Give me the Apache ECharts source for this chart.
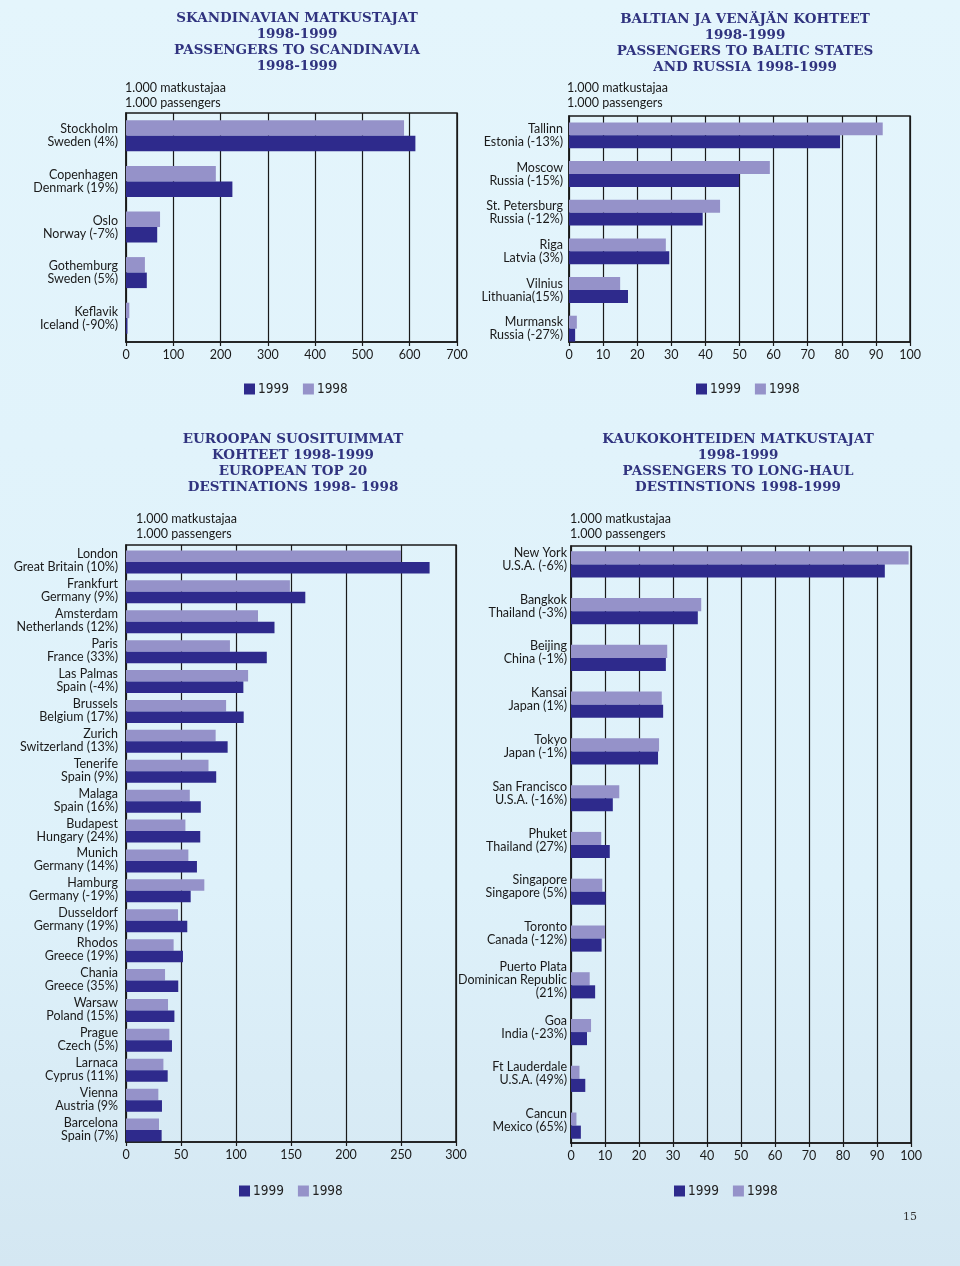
<!DOCTYPE html>
<html><head><meta charset="utf-8">
<script src="https://cdn.jsdelivr.net/npm/echarts@6/dist/echarts.min.js"></script>
<style>html,body{margin:0;padding:0;}#c{width:960px;height:1266px;}</style>
</head><body><div id="c"></div>
<script>
// Chart 1: Scandinavia
const scanCats = ['Stockholm\nSweden (4%)','Copenhagen\nDenmark (19%)','Oslo\nNorway (-7%)','Gothemburg\nSweden (5%)','Keflavik\nIceland (-90%)'];
const scan1998 = [588, 190, 72, 40, 7];
const scan1999 = [612, 225, 66, 44, 3];
// Chart 2: Baltic & Russia
const balCats = ['Tallinn\nEstonia (-13%)','Moscow\nRussia (-15%)','St. Petersburg\nRussia (-12%)','Riga\nLatvia (3%)','Vilnius\nLithuania(15%)','Murmansk\nRussia (-27%)'];
const bal1998 = [92, 58.9, 44.3, 28.4, 15, 2.3];
const bal1999 = [79.5, 49.9, 39.2, 29.4, 17.3, 1.8];
// Chart 3: European top 20
const euCats = ['London\nGreat Britain (10%)','Frankfurt\nGermany (9%)','Amsterdam\nNetherlands (12%)','Paris\nFrance (33%)','Las Palmas\nSpain (-4%)','Brussels\nBelgium (17%)','Zurich\nSwitzerland (13%)','Tenerife\nSpain (9%)','Malaga\nSpain (16%)','Budapest\nHungary (24%)','Munich\nGermany (14%)','Hamburg\nGermany (-19%)','Dusseldorf\nGermany (19%)','Rhodos\nGreece (19%)','Chania\nGreece (35%)','Warsaw\nPoland (15%)','Prague\nCzech (5%)','Larnaca\nCyprus (11%)','Vienna\nAustria (9%','Barcelona\nSpain (7%)'];
const eu1998 = [250, 149, 120, 94.5, 111, 91, 81.5, 75, 58, 54, 56.7, 71.2, 47.3, 43.3, 35.5, 38.2, 39.4, 34, 29.4, 30];
const eu1999 = [276, 163, 135, 128, 106.7, 107, 92.4, 82, 68, 67.5, 64.5, 58.8, 55.7, 51.8, 47.5, 44, 41.8, 37.9, 32.7, 32.4];
// Chart 4: Long-haul
const lhCats = ['New York\nU.S.A. (-6%)','Bangkok\nThailand (-3%)','Beijing\nChina (-1%)','Kansai\nJapan (1%)','Tokyo\nJapan (-1%)','San Francisco\nU.S.A. (-16%)','Phuket\nThailand (27%)','Singapore\nSingapore (5%)','Toronto\nCanada (-12%)','Puerto Plata\nDominican Republic\n(21%)','Goa\nIndia (-23%)','Ft Lauderdale\nU.S.A. (49%)','Cancun\nMexico (65%)'];
const lh1998 = [99.3, 38.3, 28.3, 26.7, 25.9, 14.2, 8.9, 9.2, 10.0, 5.5, 5.9, 2.5, 1.6];
const lh1999 = [92.3, 37.3, 27.9, 27.1, 25.6, 12.3, 11.4, 10.2, 9.0, 7.1, 4.7, 4.2, 2.9];
// Axis ranges
const xMax = [700, 100, 300, 100];
const xStep = [100, 10, 50, 10];

const C98 = '#9592c9', C99 = '#2e2a8c';
const FONT = 'Lato, "Open Sans", sans-serif';
const TFONT = '"DejaVu Serif", serif';
const LFONT = '"Liberation Sans Narrow", "DejaVu Sans Condensed", sans-serif';

// frame grids (border, split lines, x labels)
const frames = [
  {left:126, top:113, width:331, height:229},
  {left:569, top:116, width:341, height:226},
  {left:126, top:545, width:330, height:597},
  {left:571, top:546, width:340, height:597}
];
// band grids (where category bands sit)
const bands = [
  {left:126, top:113, width:331, height:228},
  {left:569, top:116, width:341, height:232},
  {left:126, top:547, width:330, height:598},
  {left:571, top:541, width:340, height:608}
];
const labelShift = [0, 0, 1, 5];
const catSets = [scanCats, balCats, euCats, lhCats];
const d98 = [scan1998, bal1998, eu1998, lh1998];
const d99 = [scan1999, bal1999, eu1999, lh1999];
const gaps = ['32%','33%','23%','44%'];
const labelMargins = [8, 6, 8, 4];

const chart = echarts.init(document.getElementById('c'), null, {renderer:'canvas'});

const titleStyle = {fontFamily:TFONT, fontSize:13.5, color:'#30337f', fontWeight:'bold', lineHeight:16};
const unitStyle = {fontFamily:FONT, fontSize:12.5, color:'#1a1a1a', fontWeight:'normal', lineHeight:15};

const gridArr = [], xArr = [], yArr = [], series = [];
for (let i = 0; i < 4; i++) {
  gridArr.push(Object.assign({show:true, borderColor:'#1a1a1a', borderWidth:1.5, backgroundColor:'transparent'}, frames[i]));
  xArr.push({
    type:'value', gridIndex:i, min:0, max:xMax[i], interval:xStep[i],
    axisLine:{show:true, lineStyle:{color:'#1a1a1a', width:1.5}},
    axisTick:{show:true, length:4, lineStyle:{color:'#1a1a1a', width:1.2}},
    splitLine:{show:true, lineStyle:{color:'#1a1a1a', width:1.2}},
    axisLabel:{fontFamily:FONT, fontSize:12.5, color:'#1a1a1a', margin:6}
  });
  yArr.push({
    type:'value', gridIndex:i, min:0, max:1,
    axisLine:{show:true, lineStyle:{color:'#1a1a1a', width:1.5}},
    axisTick:{show:false}, axisLabel:{show:false}, splitLine:{show:false}
  });
}
for (let i = 0; i < 4; i++) {
  gridArr.push(Object.assign({show:false}, bands[i]));
  xArr.push({type:'value', gridIndex:4+i, min:0, max:xMax[i], interval:xStep[i], show:false});
  yArr.push({
    type:'category', gridIndex:4+i, data:catSets[i], inverse:true,
    axisLine:{show:false}, axisTick:{show:false}, splitLine:{show:false}, axisLabel:{show:false}
  });
  series.push({name:'1998', type:'bar', xAxisIndex:4+i, yAxisIndex:4+i, data:d98[i], itemStyle:{color:C98}, barGap:'0%', barCategoryGap:gaps[i]});
  series.push({name:'1999', type:'bar', xAxisIndex:4+i, yAxisIndex:4+i, data:d99[i], itemStyle:{color:C99}, barGap:'0%', barCategoryGap:gaps[i]});
}
// label grids: category labels, slightly shifted like the original
for (let i = 0; i < 4; i++) {
  const b = bands[i];
  gridArr.push({show:false, left:b.left, top:b.top - labelShift[i], width:b.width, height:b.height});
  xArr.push({type:'value', gridIndex:8+i, min:0, max:xMax[i], interval:xStep[i], show:false});
  yArr.push({
    type:'category', gridIndex:8+i, data:catSets[i], inverse:true,
    axisLine:{show:false}, axisTick:{show:false}, splitLine:{show:false},
    axisLabel:{fontFamily:FONT, fontSize:12.5, color:'#1a1a1a', lineHeight:13, margin:labelMargins[i], interval:0, align:'right'}
  });
}

const option = {
  backgroundColor: {type:'linear', x:0, y:0, x2:0, y2:1, colorStops:[
    {offset:0, color:'#e4f5fc'}, {offset:0.7, color:'#def1fa'}, {offset:1, color:'#d4e7f2'}]},
  animation:false,
  title: [
    {text:'SKANDINAVIAN MATKUSTAJAT\n1998-1999\nPASSENGERS TO SCANDINAVIA\n1998-1999', left:292, top:5, textAlign:'center', textStyle:Object.assign({align:'center'}, titleStyle)},
    {text:'BALTIAN JA VENÄJÄN KOHTEET\n1998-1999\nPASSENGERS TO BALTIC STATES\nAND RUSSIA 1998-1999', left:740, top:6, textAlign:'center', textStyle:Object.assign({align:'center'}, titleStyle)},
    {text:'EUROOPAN SUOSITUIMMAT\nKOHTEET 1998-1999\nEUROPEAN TOP 20\nDESTINATIONS 1998- 1998', left:288, top:426, textAlign:'center', textStyle:Object.assign({align:'center'}, titleStyle)},
    {text:'KAUKOKOHTEIDEN MATKUSTAJAT\n1998-1999\nPASSENGERS TO LONG-HAUL\nDESTINSTIONS 1998-1999', left:733, top:426, textAlign:'center', textStyle:Object.assign({align:'center'}, titleStyle)},
    {text:'1.000 matkustajaa\n1.000 passengers', left:120, top:75, textStyle:unitStyle},
    {text:'1.000 matkustajaa\n1.000 passengers', left:562, top:75, textStyle:unitStyle},
    {text:'1.000 matkustajaa\n1.000 passengers', left:131, top:506, textStyle:unitStyle},
    {text:'1.000 matkustajaa\n1.000 passengers', left:565, top:506, textStyle:unitStyle},
    {text:'15', left:898, top:1207, textStyle:{fontFamily:TFONT, fontSize:11, color:'#333', fontWeight:'normal'}}
  ],
  legend: [
    {left:244, top:382}, {left:696, top:382}, {left:239, top:1184}, {left:674, top:1184}
  ].map(p => Object.assign({
    data:['1999','1998'], itemWidth:11, itemHeight:11, itemGap:14, icon:'rect', padding:0,
    textStyle:{fontFamily:LFONT, fontSize:13.5, color:'#222', padding:[0,0,0,-2]}, selectedMode:false
  }, p)),
  grid: gridArr,
  xAxis: xArr,
  yAxis: yArr,
  series: series
};
chart.setOption(option);
</script>
</body></html>
